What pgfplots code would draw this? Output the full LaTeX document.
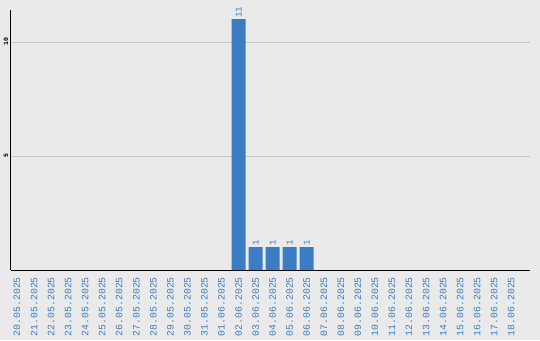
\documentclass[border=0pt]{standalone}
\usepackage{pgfplots}
\pgfplotsset{compat=1.18}
\usepackage{fontspec}
\setmainfont{Liberation Mono}
\usetikzlibrary{backgrounds}
\definecolor{bgc}{HTML}{EAEAEA}
\definecolor{barc}{HTML}{3A7DC4}
\definecolor{gridc}{HTML}{C8C8C8}
\pgfplotstableread{
x y
13 11
14 1
15 1
16 1
17 1
}\counts
\begin{document}
\begin{tikzpicture}
\begin{axis}[
  scale only axis,
  width=519.5pt, height=260pt,
  xmin=-0.38, xmax=30.1,
  ymin=0, ymax=11.4,
  axis x line*=bottom, axis y line*=left,
  axis line style={-, black, line width=0.8pt},
  ybar, bar width=14pt,
  xtick={0,...,29},
  xticklabels={20.05.2025,21.05.2025,22.05.2025,23.05.2025,24.05.2025,25.05.2025,26.05.2025,27.05.2025,28.05.2025,29.05.2025,30.05.2025,31.05.2025,01.06.2025,02.06.2025,03.06.2025,04.06.2025,05.06.2025,06.06.2025,07.06.2025,08.06.2025,09.06.2025,10.06.2025,11.06.2025,12.06.2025,13.06.2025,14.06.2025,15.06.2025,16.06.2025,17.06.2025,18.06.2025},
  x tick label style={rotate=90, anchor=east, font=\fontsize{9.8}{10}\selectfont, text=barc, inner sep=0pt, xshift=0pt},
  xticklabel shift=7pt,
  ytick={5,10},
  y tick label style={rotate=90, anchor=south, font=\fontsize{6.5}{7}\selectfont\bfseries, inner sep=0pt},
  yticklabel shift=2pt,
  /pgf/number format/assume math mode=true,
  major tick length=0pt,
  ymajorgrids, grid style={gridc, line width=0.8pt},
  nodes near coords,
  every node near coord/.append style={rotate=90, anchor=west, font=\fontsize{9}{10}\selectfont, text=barc, inner sep=1.5pt},
]
\addplot[fill=barc, draw=none] table[x=x, y=y] {\counts};
\end{axis}
\begin{scope}[on background layer]
\fill[bgc] ([xshift=-10.5pt,yshift=-70pt]current axis.south west) rectangle ([xshift=10pt,yshift=10pt]current axis.north east);
\end{scope}
\end{tikzpicture}
\end{document}
